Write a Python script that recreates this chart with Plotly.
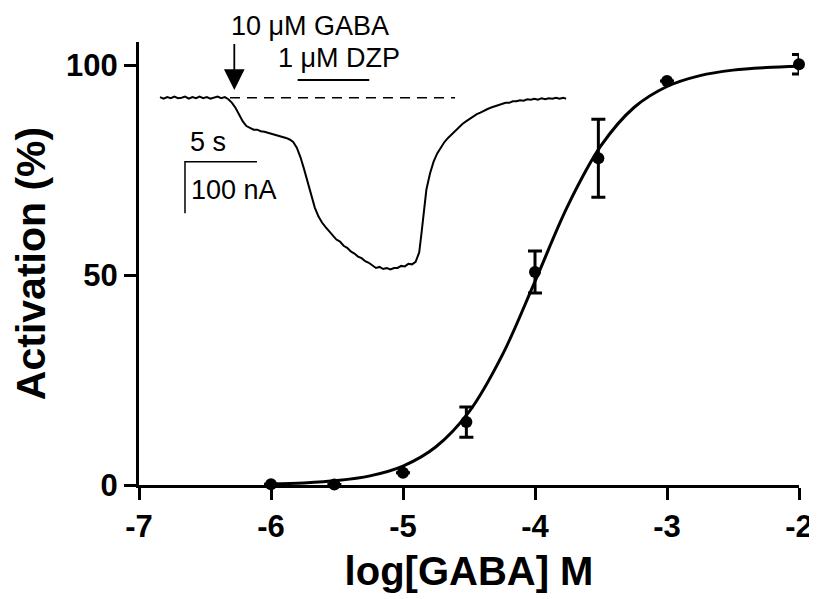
import plotly.graph_objects as go

# Concentration-response data (log[GABA] M vs % activation)
log_gaba = [-6.0, -5.52, -5.0, -4.52, -4.0, -3.52, -3.0, -2.0]
activation = [0.2, 0.1, 2.9, 15.0, 50.7, 77.8, 96.2, 100.2]
activation_err = [0.0, 0.0, 0.0, 3.6, 5.0, 9.3, 0.0, 2.3]

# Fitted curve
fit_x = [-6.0, -5.75, -5.5, -5.25, -5.0, -4.75, -4.5, -4.25, -4.0, -3.75, -3.5,
         -3.25, -3.0, -2.75, -2.5, -2.25, -2.0]
fit_y = [0.24, 0.50, 1.05, 2.18, 4.5, 9.1, 17.4, 30.8, 48.5, 66.6, 80.8,
         89.9, 94.9, 97.5, 98.8, 99.4, 99.7]

# Inset current trace (time in s, current in nA)
trace_t = [0.0, 0.25, 0.5, 0.75, 1.0, 1.25, 1.5, 1.75, 2.0, 2.25, 2.5, 2.75, 3.0, 3.25,
           3.5, 3.75, 4.0, 4.25, 4.5, 4.75, 5.0, 5.25, 5.5, 5.75, 6.0, 6.25, 6.5, 6.75,
           7.0, 7.25, 7.5, 7.75, 8.0, 8.25, 8.5, 8.75, 9.0, 9.25, 9.5, 9.75, 10.0, 10.25,
           10.5, 10.75, 11.0, 11.25, 11.5, 11.75, 12.0, 12.25, 12.5, 12.75, 13.0, 13.25,
           13.5, 13.75, 14.0, 14.25, 14.5, 14.75, 15.0, 15.25, 15.5, 15.75, 16.0, 16.25,
           16.5, 16.75, 17.0, 17.25, 17.5, 17.75, 18.0, 18.15, 18.3, 18.5, 18.75, 19.0,
           19.25, 19.5, 19.75, 20.0, 20.25, 20.5, 20.75, 21.0, 21.25, 21.5, 21.75, 22.0,
           22.25, 22.5, 22.75, 23.0, 23.25, 23.5, 23.75, 24.0, 24.25, 24.5, 24.75, 25.0,
           25.25, 25.5, 25.75, 26.0, 26.25, 26.5, 26.75, 27.0, 27.25, 27.5, 27.75, 28.0,
           28.2]
trace_i = [1, -2, 1, -1, 2, -1, 0, 2, -2, 1, -1, 2, -1, 1, -2, 0, 2, -1, 1,
           -3, -10, -20, -34, -46, -55, -59, -62, -62,
           -65, -66, -68, -69, -72, -73, -76, -78, -81, -86, -97, -115, -138, -163,
           -190, -213, -230, -242, -251, -259, -268, -275, -279, -287, -291, -298,
           -302, -308, -311, -317, -320, -325, -330, -328, -332, -330, -333, -330,
           -330, -326, -327, -322, -323, -318, -300, -265, -222, -178, -147, -124,
           -108, -96, -86, -78, -71, -64, -58, -51, -46, -41, -37, -32,
           -29, -25, -22, -19, -17, -14, -13, -10, -10, -7, -7, -5,
           -6, -3, -4, -2, -4, -1, -3, -1, -2, 0, -2, 0,
           -2]

x_ticks = [-7, -6, -5, -4, -3, -2]
y_ticks = [0, 50, 100]

FONT = "Liberation Sans, Arial, sans-serif"

fig = go.Figure()

fig.add_trace(go.Scatter(x=fit_x, y=fit_y, mode="lines",
                         line=dict(color="black", width=3, shape="spline"),
                         hoverinfo="skip", showlegend=False))
fig.add_trace(go.Scatter(x=log_gaba, y=activation, mode="markers",
                         marker=dict(color="black", size=12),
                         error_y=dict(type="data", array=activation_err, visible=True,
                                      color="black", thickness=3, width=7),
                         showlegend=False, cliponaxis=False))

# Inset trace on its own hidden axes
fig.add_trace(go.Scatter(x=trace_t, y=trace_i, mode="lines", xaxis="x2", yaxis="y2",
                         line=dict(color="black", width=2),
                         showlegend=False))
# baseline dashed
fig.add_trace(go.Scatter(x=[4.86, 20.49], y=[0, 0], mode="lines", xaxis="x2", yaxis="y2",
                         line=dict(color="black", width=1.5, dash="10px,7px"),
                         showlegend=False))
# DZP application bar
fig.add_trace(go.Scatter(x=[9.56, 14.53], y=[34.3, 34.3], mode="lines", xaxis="x2", yaxis="y2",
                         line=dict(color="black", width=2), showlegend=False))
# scale bars: 5 s and 100 nA
fig.add_trace(go.Scatter(x=[6.736, 1.736, 1.736], y=[-124, -124, -224], mode="lines",
                         xaxis="x2", yaxis="y2",
                         line=dict(color="black", width=1.5), showlegend=False))

txt = dict(family=FONT, size=27, color="black")
fig.add_annotation(x=0.259, y=1.036, xref="paper", yref="paper", text="10 μM GABA",
                   xanchor="center", yanchor="middle", showarrow=False, font=txt)
fig.add_annotation(x=12.43, y=76, xref="x2", yref="y2", text="1 μM DZP",
                   showarrow=False, font=txt)
fig.add_annotation(x=3.30, y=-86, xref="x2", yref="y2", text="5 s",
                   showarrow=False, font=txt)
fig.add_annotation(x=5.17, y=-178, xref="x2", yref="y2", text="100 nA",
                   showarrow=False, font=txt)
fig.add_annotation(x=5.16, y=14.9, xref="x2", yref="y2", ax=5.16, ay=107,
                   axref="x2", ayref="y2", text="", showarrow=True,
                   arrowhead=2, arrowsize=2.3, arrowwidth=1.8, arrowcolor="black")

tickfont = dict(family=FONT, size=31, color="black", weight="bold")
fig.update_layout(
    width=809, height=591,
    margin=dict(l=131, r=18, t=34, b=114),
    paper_bgcolor="white", plot_bgcolor="white",
    showlegend=False,
    xaxis=dict(range=[-7, -2], tickvals=x_ticks, ticktext=[str(v) for v in x_ticks],
               showgrid=False, zeroline=False, showline=True, linecolor="black",
               linewidth=3, ticks="outside", ticklen=12, tickwidth=3, tickcolor="black",
               tickfont=tickfont, automargin=False,
               title=dict(text="<b>log[GABA] M</b>", font=dict(family=FONT, size=40, color="black"),
                          standoff=14)),
    yaxis=dict(range=[0, 105.5], tickvals=y_ticks, ticktext=[str(v) for v in y_ticks],
               showgrid=False, zeroline=False, showline=True, linecolor="black",
               linewidth=3, ticks="outside", ticklen=12, tickwidth=3, tickcolor="black",
               tickfont=tickfont, automargin=False,
               title=dict(text="<b>Activation (%)</b>", font=dict(family=FONT, size=41, color="black"),
                          standoff=8)),
    xaxis2=dict(range=[-1.458, 44.375], overlaying="x", visible=False, anchor="y2"),
    yaxis2=dict(range=[-750.6, 107.9], overlaying="y", visible=False, anchor="x2"),
)

fig.write_html("out.html")
